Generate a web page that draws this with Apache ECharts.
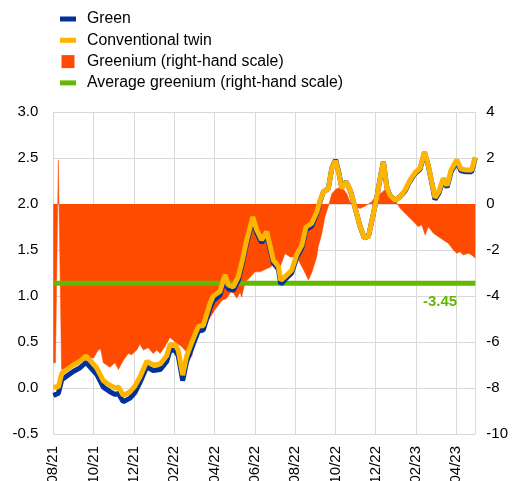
<!DOCTYPE html>
<html><head><meta charset="utf-8">
<script src="https://cdn.jsdelivr.net/npm/echarts@6/dist/echarts.min.js"></script>
<style>html,body{margin:0;padding:0;background:#fff}#c{width:512px;height:481px}</style>
</head><body><div id="c"></div>
<script>
// x positions in months since August 2021
var lineX = [0.00,0.25,0.42,0.99,1.33,1.62,1.82,2.15,2.48,2.81,3.07,3.23,3.47,3.81,4.05,4.30,4.64,4.96,5.30,5.63,5.79,6.04,6.20,6.42,6.62,6.95,7.20,7.44,7.78,7.94,8.27,8.52,8.68,8.93,9.18,9.35,9.60,9.90,10.09,10.34,10.59,10.75,10.92,11.17,11.29,11.50,11.83,12.08,12.33,12.54,12.82,13.07,13.24,13.40,13.65,13.82,14.01,14.18,14.31,14.53,14.75,14.97,15.22,15.43,15.64,15.82,16.05,16.26,16.38,16.55,16.71,16.96,17.21,17.45,17.70,17.95,18.20,18.42,18.60,18.78,18.94,19.14,19.35,19.54,19.74,20.02,20.23,20.48,20.76,20.94];
var conventionalTwin = [0.01,0.01,0.16,0.25,0.29,0.35,0.30,0.22,0.08,0.03,0.00,0.01,-0.08,-0.04,0.02,0.12,0.29,0.25,0.26,0.35,0.47,0.47,0.41,0.14,0.35,0.54,0.67,0.68,0.92,1.00,1.05,1.23,1.12,1.10,1.21,1.36,1.61,1.86,1.72,1.61,1.70,1.55,1.39,1.32,1.17,1.21,1.28,1.45,1.55,1.75,1.79,1.91,2.04,2.13,2.17,2.39,2.47,2.32,2.17,2.24,2.14,1.96,1.76,1.63,1.65,1.83,2.07,2.33,2.46,2.18,2.09,2.04,2.08,2.15,2.26,2.34,2.39,2.57,2.43,2.24,2.07,2.14,2.28,2.20,2.37,2.48,2.38,2.37,2.37,2.51];
var greenBond = [-0.08,-0.06,0.09,0.18,0.22,0.28,0.23,0.15,0.01,-0.04,-0.07,-0.06,-0.15,-0.11,-0.05,0.06,0.23,0.19,0.20,0.29,0.41,0.41,0.35,0.08,0.29,0.48,0.62,0.63,0.87,0.95,1.01,1.19,1.08,1.06,1.17,1.33,1.58,1.83,1.69,1.58,1.67,1.52,1.36,1.29,1.13,1.18,1.25,1.42,1.52,1.72,1.76,1.89,2.03,2.13,2.17,2.39,2.48,2.33,2.18,2.24,2.14,1.96,1.76,1.63,1.65,1.83,2.07,2.33,2.46,2.18,2.09,2.04,2.08,2.14,2.25,2.33,2.38,2.56,2.42,2.23,2.05,2.12,2.26,2.18,2.35,2.46,2.36,2.35,2.35,2.50];

var greeniumX = [0.00,0.11,0.25,0.41,0.83,1.16,1.49,1.66,1.99,2.23,2.35,2.48,2.81,3.06,3.23,3.47,3.72,3.89,4.14,4.30,4.47,4.71,4.96,5.13,5.30,5.54,5.79,6.12,6.37,6.62,6.87,7.12,7.44,7.69,8.02,8.36,8.61,8.85,9.10,9.27,9.35,9.51,9.76,10.01,10.26,10.51,10.75,11.00,11.25,11.50,11.75,12.08,12.41,12.66,12.82,13.07,13.15,13.32,13.48,13.65,13.82,14.03,14.31,14.56,14.72,14.97,15.22,15.46,15.80,15.97,16.30,16.55,16.71,16.87,17.04,17.21,17.45,17.70,17.95,18.11,18.28,18.45,18.61,18.86,19.11,19.35,19.60,19.85,20.02,20.18,20.35,20.60,20.76,20.94];
var greenium = [-6.9,-6.9,1.9,-7.2,-7.1,-6.9,-6.85,-6.7,-6.7,-6.35,-6.3,-6.9,-7.1,-6.9,-7.2,-6.8,-6.5,-6.55,-6.35,-6.1,-6.35,-6.25,-6.5,-6.35,-6.5,-6.2,-5.8,-6.05,-6.2,-6.45,-6.65,-5.5,-5.5,-5.05,-4.6,-4.2,-4.1,-3.75,-4.1,-3.85,-4.05,-3.4,-3.2,-2.95,-2.95,-2.85,-2.75,-2.6,-2.75,-2.15,-2.3,-2.3,-2.85,-3.3,-3.0,-2.3,-1.85,-1.3,-0.55,-0.1,0.45,0.65,0.75,0.45,0.1,-0.1,-0.2,-0.1,0.1,0.3,0.5,0.7,0.5,0.3,0.05,-0.19,-0.4,-0.62,-0.84,-0.99,-0.9,-1.35,-0.99,-1.27,-1.42,-1.57,-1.71,-2.0,-2.14,-2.08,-2.22,-2.14,-2.22,-2.36];

var averageGreenium = -3.45;
var xStart = 0, xEnd = 20.94;
var leftTicks = {min: -0.5, max: 3.0, step: 0.5};
var rightTicks = {min: -10, max: 4, step: 2};
var seriesNames = ['Green', 'Conventional twin', 'Greenium (right-hand scale)', 'Average greenium (right-hand scale)'];

function pairs(xs, ys) { return xs.map(function (x, i) { return [x, ys[i]]; }); }
function monthLabel(v) {
  if (Math.abs(v - Math.round(v)) > 1e-6 || Math.round(v) % 2 !== 0) return '';
  var m = 8 + Math.round(v);
  var y = 21 + Math.floor((m - 1) / 12);
  var mm = ((m - 1) % 12) + 1;
  return (mm < 10 ? '0' : '') + mm + '/' + y;
}

var BLUE = '#003299', YELLOW = '#ffb400', RED = '#ff4b00', GREEN = '#65b800';
var FONT = 'Liberation Sans';
var chart = echarts.init(document.getElementById('c'), null, {renderer: 'canvas'});
chart.setOption({
  animation: false,
  textStyle: {fontFamily: FONT},
  legend: {
    orient: 'vertical', left: 60, top: 11, padding: 0, itemWidth: 16, itemHeight: 13, itemGap: 5.3,
    textStyle: {fontFamily: FONT, fontSize: 15.8, color: '#000', padding: [0, 0, 0, 6]},
    data: [
      {name: seriesNames[0], icon: 'path://M0,0H16V5H0Z', itemStyle: {color: BLUE}},
      {name: seriesNames[1], icon: 'path://M0,0H16V5H0Z', itemStyle: {color: YELLOW}},
      {name: seriesNames[2], icon: 'path://M0,0H13V13H0Z', itemStyle: {color: RED}},
      {name: seriesNames[3], icon: 'path://M0,0H16V5H0Z', itemStyle: {color: GREEN}}
    ]
  },
  grid: {left: 53.3, right: 36.7, top: 112, bottom: 47, containLabel: false, outerBoundsMode: 'none'},
  xAxis: {
    type: 'value', min: xStart, max: xEnd, interval: 2,
    axisLine: {show: true, lineStyle: {color: '#d9d9d9', width: 1}},
    axisTick: {show: false},
    splitLine: {show: true, lineStyle: {color: '#d9d9d9', width: 1}},
    axisLabel: {rotate: 90, margin: 12, fontSize: 15, color: '#000', fontFamily: FONT, formatter: monthLabel, showMaxLabel: false}
  },
  yAxis: [
    {
      type: 'value', min: leftTicks.min, max: leftTicks.max, interval: leftTicks.step,
      axisLine: {show: true, lineStyle: {color: '#d9d9d9'}}, axisTick: {show: false},
      splitLine: {show: true, lineStyle: {color: '#d9d9d9', width: 1}},
      axisLabel: {margin: 15, fontSize: 15, color: '#000', fontFamily: FONT, formatter: function (v) { return v.toFixed(1); }}
    },
    {
      type: 'value', min: rightTicks.min, max: rightTicks.max, interval: rightTicks.step, position: 'right',
      axisLine: {show: true, lineStyle: {color: '#d9d9d9'}}, axisTick: {show: false},
      splitLine: {show: false},
      axisLabel: {margin: 11, fontSize: 15, color: '#000', fontFamily: FONT}
    }
  ],
  series: [
    {
      name: seriesNames[2], type: 'line', yAxisIndex: 1, data: pairs(greeniumX, greenium),
      showSymbol: false, symbol: 'none', lineStyle: {width: 0.5, color: RED}, itemStyle: {color: RED},
      areaStyle: {color: RED, opacity: 1, origin: 0}
    },
    {
      name: seriesNames[3], type: 'line', yAxisIndex: 1,
      data: [[xStart, averageGreenium], [xEnd, averageGreenium]],
      showSymbol: false, symbol: 'none', lineStyle: {width: 5, color: GREEN}, itemStyle: {color: GREEN},
      markPoint: {
        symbol: 'circle', symbolSize: 1, itemStyle: {color: 'rgba(0,0,0,0)'},
        label: {show: true, position: 'bottom', distance: 11, color: GREEN, fontWeight: 'bold', fontSize: 15, fontFamily: FONT, formatter: averageGreenium.toFixed(2)},
        data: [{coord: [19.19, averageGreenium]}]
      }
    },
    {
      name: seriesNames[0], type: 'line', data: pairs(lineX, greenBond),
      showSymbol: false, symbol: 'none', lineStyle: {width: 5, color: BLUE}, itemStyle: {color: BLUE}
    },
    {
      name: seriesNames[1], type: 'line', data: pairs(lineX, conventionalTwin),
      showSymbol: false, symbol: 'none', lineStyle: {width: 5, color: YELLOW}, itemStyle: {color: YELLOW}
    }
  ]
});
</script></body></html>
